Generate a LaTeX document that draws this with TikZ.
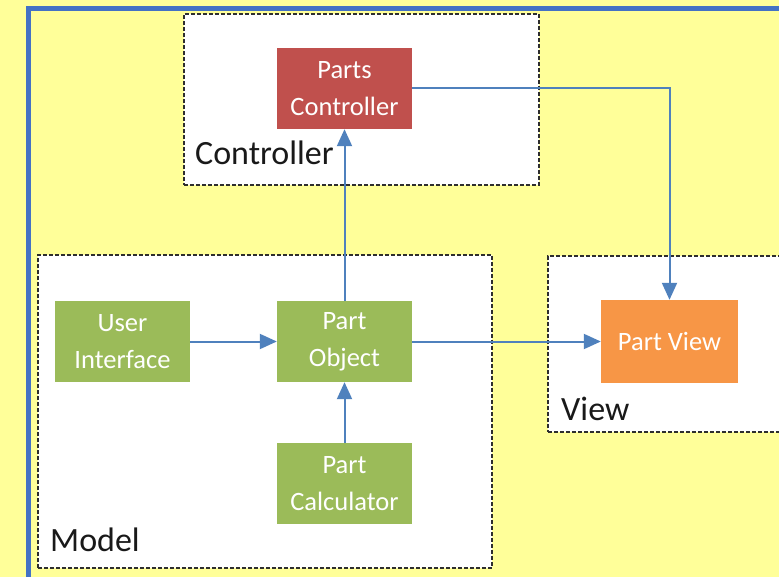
\documentclass[tikz,border=0pt]{standalone}
\usepackage{fontspec}
\setmainfont{Carlito}
\usetikzlibrary{arrows.meta}
\definecolor{bgyellow}{HTML}{FFFF99}
\definecolor{framblue}{HTML}{4472C4}
\definecolor{arrblue}{HTML}{4F81BD}
\definecolor{cred}{HTML}{C0504D}
\definecolor{cgreen}{HTML}{9BBB59}
\definecolor{corange}{HTML}{F79646}
\definecolor{dashgrey}{HTML}{2E2E2E}
\begin{document}
\begin{tikzpicture}[x=1pt,y=-1pt,
  grp/.style={draw=dashgrey, line width=1.8pt, dash pattern=on 4pt off 2pt, fill=white, anchor=north west, inner sep=0pt},
  comp/.style={minimum width=135pt, minimum height=81pt, inner sep=0pt, align=center, text=white, font=\fontsize{26.5}{37}\selectfont},
  lbl/.style={anchor=base west, inner sep=0pt, font=\fontsize{34}{40}\selectfont, text=black!90},
  arr/.style={draw=arrblue, line width=2pt, -{Triangle[length=17pt, width=15pt]}}
]
\useasboundingbox (0,0) rectangle (779,577);
\clip (0,0) rectangle (779,577);
\fill[bgyellow] (0,0) rectangle (779,577);
\draw[framblue, line width=5pt] (28,9) rectangle (800,600);
% groups
\node[grp, minimum width=355pt, minimum height=171pt] (gctrl) at (183,13) {};
\node[grp, minimum width=454pt, minimum height=313pt] (gmodel) at (37,254) {};
\node[grp, minimum width=260pt, minimum height=176pt] (gview) at (547,255) {};
\node[lbl] (lctrl) at (195,165) {Controller};
\node[lbl] (lview) at (561,420) {View};
\node[lbl] (lmodel) at (50,551) {Model};
% components
\node[comp, fill=cred] (pc) at (344.5,88.5) {\raisebox{-2pt}{Parts}\\\raisebox{-2pt}{Controller}};
\node[comp, fill=cgreen] (ui) at (122.5,341.5) {\raisebox{-2pt}{User}\\\raisebox{-2pt}{Interface}};
\node[comp, fill=cgreen] (po) at (344.5,341.5) {\raisebox{-2pt}{Part}\\\raisebox{-2pt}{Object}};
\node[comp, fill=cgreen] (pcalc) at (344.5,483.5) {\raisebox{-2pt}{Part}\\\raisebox{-2pt}{Calculator}};
\node[comp, fill=corange, minimum width=137pt, minimum height=83pt] (pv) at (669.5,341.5) {Part View};
% connectors
\draw[arr] (pc.east) -| (pv.north);
\draw[arr] (po.north) -- (pc.south);
\draw[arr] (ui) -- (po);
\draw[arr] (po) -- (pv);
\draw[arr] (pcalc) -- (po);
\end{tikzpicture}
\end{document}
